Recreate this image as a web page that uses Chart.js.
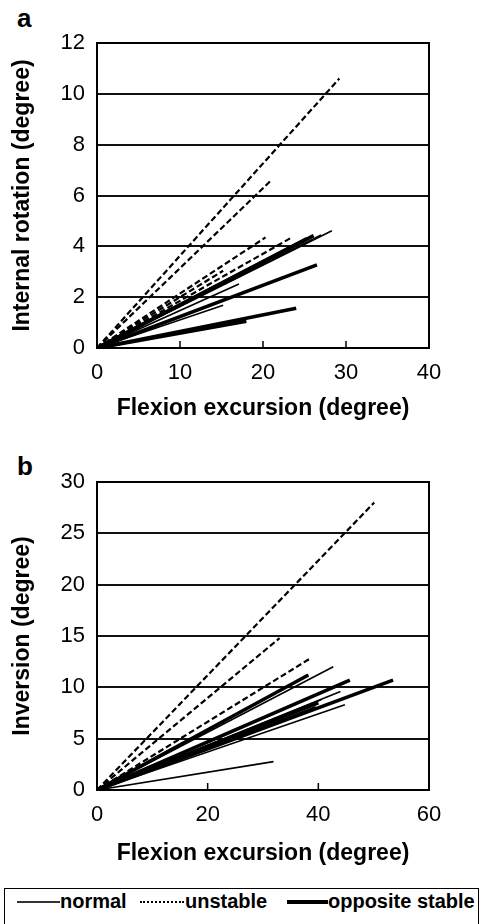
<!DOCTYPE html>
<html>
<head>
<meta charset="utf-8">
<script src="https://cdn.jsdelivr.net/npm/chart.js@4.4.0/dist/chart.umd.min.js"></script>
<style>
  html, body { margin: 0; padding: 0; background: #fff; }
  body { width: 483px; height: 924px; position: relative; overflow: hidden; font-family: 'Liberation Sans', Arial, sans-serif; color: #000; }
  canvas { position: absolute; left: 0; }
  #chartA { top: 0; }
  #chartB { top: 440px; }
  .panel { position: absolute; left: 17px; font-weight: bold; font-size: 26px; line-height: 26px; }
  #legend { position: absolute; left: 4px; top: 888px; width: 475px; height: 50px; border: 1px solid #000; box-sizing: border-box; }
  .item { position: absolute; top: 1px; font-size: 20px; font-weight: bold; line-height: 22px; white-space: nowrap; }
  .sample { position: absolute; top: 12px; }
</style>
</head>
<body>
<div class="panel" style="top:5px">a</div>
<div class="panel" style="top:453px">b</div>
<canvas id="chartA" width="483" height="430"></canvas>
<canvas id="chartB" width="483" height="430"></canvas>

<div id="legend">
  <div class="sample" style="left:12px;width:43px;border-top:2px solid #333"></div>
  <div class="item" style="left:55px">normal</div>
  <div class="sample" style="left:135px;width:44px;border-top:2px dotted #000"></div>
  <div class="item" style="left:180px">unstable</div>
  <div class="sample" style="left:282px;width:41px;border-top:4px solid #000;top:11px"></div>
  <div class="item" style="left:323px">opposite stable</div>
</div>

<script>
// --- DATA : every line goes from the origin to (x, y) ---

// a. Internal rotation vs flexion excursion
const aNormalX = [28.3, 27.0, 17.1, 15.2, 25.0];
const aNormalY = [4.61, 4.45, 2.52, 1.68, 4.2];
const aUnstableX = [29.2, 21.0, 20.3, 23.3, 15.2];
const aUnstableY = [10.6, 6.6, 4.35, 4.32, 3.04];
const aStableX = [26.1, 25.3, 26.5, 18.0, 24.0];
const aStableY = [4.42, 4.3, 3.27, 1.05, 1.56];
const aXTicks = [0, 10, 20, 30, 40];
const aYTicks = [0, 2, 4, 6, 8, 10, 12];

// b. Inversion vs flexion excursion
const bNormalX = [42.7, 44.0, 44.8, 31.9, 39.5, 38.0, 40.5];
const bNormalY = [12.0, 9.6, 8.3, 2.76, 8.1, 7.7, 8.8];
const bUnstableX = [50.1, 33.0, 38.5];
const bUnstableY = [28.0, 14.8, 12.8];
const bStableX = [38.2, 45.7, 53.5, 40.0];
const bStableY = [11.2, 10.7, 10.7, 8.5];
const bXTicks = [0, 20, 40, 60];
const bYTicks = [0, 5, 10, 15, 20, 25, 30];

Chart.defaults.font.family = "'Liberation Sans', Arial, sans-serif";
Chart.defaults.color = '#000';
Chart.defaults.animation = false;

const lineStyles = {
    normal: { borderWidth: 1.6 },
    unstable: { borderWidth: 2.2, borderDash: [6, 3] },
    stable: { borderWidth: 3.6 }
};

function lineSets(xs, ys, style) {
    return xs.map((x, i) => Object.assign({
        data: [{ x: 0, y: 0 }, { x: x, y: ys[i] }],
        borderColor: '#000',
        pointRadius: 0,
        fill: false
    }, style));
}

// box round the plot area + small inner tick marks on the x axis
const framePlugin = {
    id: 'frame',
    afterDraw(chart) {
        const ctx = chart.ctx;
        const a = chart.chartArea;
        const xs = chart.scales.x;
        ctx.save();
        ctx.strokeStyle = '#000';
        ctx.lineWidth = 2;
        ctx.strokeRect(a.left, a.top, a.right - a.left, a.bottom - a.top);
        ctx.lineWidth = 1.5;
        xs.ticks.forEach((t, i) => {
            if (i === 0 || i === xs.ticks.length - 1) return;
            const px = xs.getPixelForValue(t.value);
            ctx.beginPath();
            ctx.moveTo(px, a.bottom);
            ctx.lineTo(px, a.bottom - 7);
            ctx.stroke();
        });
        ctx.restore();
    }
};

function makeChart(id, sets, xTicks, yTicks, yTitle, pad, xHeight, xTitlePad) {
    return new Chart(document.getElementById(id), {
        type: 'line',
        data: { datasets: sets },
        options: {
            responsive: false,
            layout: { padding: pad },
            plugins: { legend: { display: false }, tooltip: { enabled: false } },
            scales: {
                x: {
                    type: 'linear',
                    min: xTicks[0],
                    max: xTicks[xTicks.length - 1],
                    ticks: { stepSize: xTicks[1] - xTicks[0], padding: 12, font: { size: 22 }, color: '#000', maxRotation: 0 },
                    grid: { display: false, drawTicks: false },
                    border: { display: true, color: '#000', width: 2 },
                    title: { display: true, text: 'Flexion excursion (degree)', font: { size: 23, weight: 'bold' }, color: '#000', padding: { top: 4, bottom: xTitlePad } },
                    afterFit(s) { s.height = xHeight; }
                },
                y: {
                    type: 'linear',
                    min: yTicks[0],
                    max: yTicks[yTicks.length - 1],
                    ticks: { stepSize: yTicks[1] - yTicks[0], padding: 12, font: { size: 22 }, color: '#000' },
                    grid: { color: '#111', lineWidth: 2, drawTicks: false },
                    border: { display: true, color: '#000', width: 2 },
                    title: { display: true, text: yTitle, font: { size: 23, weight: 'bold' }, color: '#000', padding: { top: 3, bottom: 0 } },
                    afterFit(s) { s.width = 97 - pad.left; }
                }
            }
        },
        plugins: [framePlugin]
    });
}

const setsA = [].concat(
    lineSets(aNormalX, aNormalY, lineStyles.normal),
    lineSets(aStableX, aStableY, lineStyles.stable),
    lineSets(aUnstableX, aUnstableY, lineStyles.unstable)
);
const setsB = [].concat(
    lineSets(bNormalX, bNormalY, lineStyles.normal),
    lineSets(bStableX, bStableY, lineStyles.stable),
    lineSets(bUnstableX, bUnstableY, lineStyles.unstable)
);

makeChart('chartA', setsA, aXTicks, aYTicks, 'Internal rotation (degree)',
    { top: 43, left: 6, right: 54, bottom: 0 }, 82, 8);
makeChart('chartB', setsB, bXTicks, bYTicks, 'Inversion (degree)',
    { top: 42, left: 6, right: 54, bottom: 0 }, 80, 3);
</script>
</body>
</html>
